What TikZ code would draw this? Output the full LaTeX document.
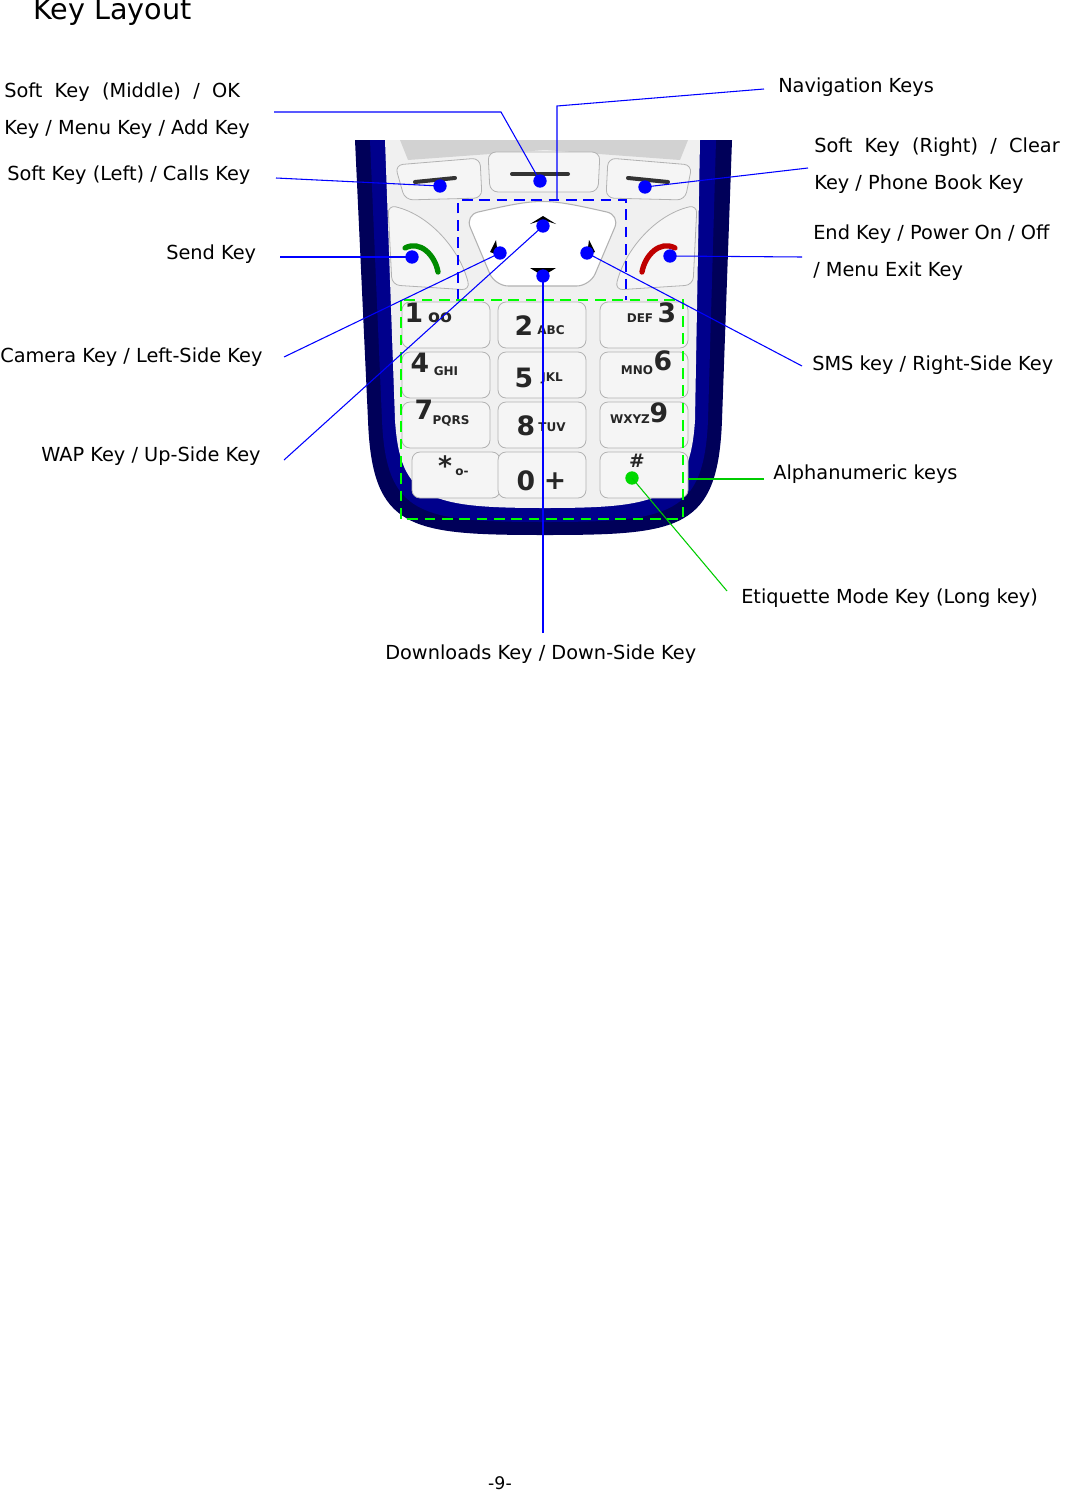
\documentclass[tikz,border=0pt]{standalone}
\usepackage{fontspec}
\setmainfont{DejaVu Sans}
\begin{document}
\begin{tikzpicture}[x=0.75pt,y=-0.75pt,
  lbl/.style={anchor=west,inner sep=0pt,font=\fontsize{14.5}{16}\selectfont},
  bl/.style={draw=blue,line width=0.8pt},
  gl/.style={draw=green!80!black,line width=0.8pt},
  bdot/.style={circle,fill=blue,inner sep=0pt,minimum size=10pt},
  gdot/.style={circle,fill=green!85!black,inner sep=0pt,minimum size=10pt},
  keyb/.style={draw=gray!60,fill=gray!8,rounded corners=6pt,line width=0.6pt},
  kt/.style={font=\bfseries\fontsize{20}{20}\selectfont,text=black!85},
  ks/.style={font=\bfseries\fontsize{9}{9}\selectfont,text=black!85}]
\useasboundingbox (0,0) rectangle (1065,1492);
% phone body
\fill[blue!35!black] (355,140) -- (732,140) -- (722,420) .. controls (718,530) and (680,535) .. (545,535) .. controls (410,535) and (372,530) .. (368,420) -- cycle;
\fill[blue!55!black] (370,140) -- (716,140) -- (708,420) .. controls (704,515) and (670,522) .. (545,522) .. controls (420,522) and (386,515) .. (382,420) -- cycle;
\fill[gray!12] (385,140) -- (700,140) -- (695,420) .. controls (690,500) and (660,508) .. (545,508) .. controls (430,508) and (400,500) .. (395,420) -- cycle;
% screen edge
\fill[gray!35] (400,140) -- (688,140) -- (680,160) -- (545,150) -- (408,160) -- cycle;
% soft keys
\draw[keyb] (395,165) -- (480,158) -- (482,198) -- (405,200) -- cycle;
\draw[keyb] (488,152) -- (600,152) -- (598,192) -- (490,192) -- cycle;
\draw[keyb] (608,158) -- (692,165) -- (685,200) -- (606,198) -- cycle;
\draw[line width=3pt,line cap=round,black!80] (415,182) -- (455,178);
\draw[line width=3pt,line cap=round,black!80] (512,174) -- (568,174);
\draw[line width=3pt,line cap=round,black!80] (628,178) -- (668,182);
% send / end keys
\draw[keyb] (388,205) .. controls (430,215) and (460,250) .. (470,290) -- (392,285) -- cycle;
\draw[keyb] (697,205) .. controls (655,215) and (625,250) .. (615,290) -- (693,285) -- cycle;
\draw[green!55!black,line width=4pt,line cap=round] (405,248) .. controls (420,240) and (435,255) .. (438,272);
\draw[red!75!black,line width=4pt,line cap=round] (642,272) .. controls (645,255) and (660,240) .. (675,248);
% nav key
\draw[draw=gray!60,fill=white,line width=0.8pt,rounded corners=10pt] (465,215) .. controls (540,198) and (545,198) .. (620,215) -- (590,286) -- (495,286) -- cycle;
\fill[black] (530,224) -- (543,216) -- (556,224) -- (543,220) -- cycle;
\fill[black] (530,268) -- (556,268) -- (543,276) -- cycle;
\fill[black] (496,240) -- (498,255) -- (490,252) -- cycle;
\fill[black] (589,240) -- (587,255) -- (595,252) -- cycle;
% keypad keys
\foreach \x/\y in {402/302,402/352,402/402,412/452, 498/302,498/352,498/402,498/452, 600/302,600/352,600/402,600/452}{
  \draw[keyb] (\x,\y) rectangle ++(88,46);}
\node[kt] (k1) at (414,313) {1};\node[ks,font=\bfseries\fontsize{13}{13}\selectfont] at (440,318) {oo};
\node[kt] (k2) at (524,326) {2};\node[ks] at (551,330) {ABC};
\node[kt] (k3) at (667,313) {3};\node[ks] at (640,318) {DEF};
\node[kt] (k4) at (420,363) {4};\node[ks] at (446,371) {GHI};
\node[kt] (k5) at (524,378) {5};\node[ks] at (552,378) {JKL};
\node[kt] (k6) at (663,361) {6};\node[ks] at (637,370) {MNO};
\node[kt] (k7) at (424,410) {7};\node[ks] at (451,421) {PQRS};
\node[kt] (k8) at (526,426) {8};\node[ks] at (552,427) {TUV};
\node[kt] (k9) at (659,413) {9};\node[ks] at (630,419) {WXYZ};
\node[kt] (k10) at (445,466) {*};\node[ks] at (462,472) {o-};
\node[kt] (k0) at (526,481) {0};\node[kt] at (555,481) {+};
\node[kt,font=\bfseries\fontsize{14}{14}\selectfont] (kh) at (637,461) {\#};
% dashed boxes
\draw[blue,line width=2pt,dash pattern=on 8pt off 5pt] (458,300) -- (458,200) -- (626,200) -- (626,300);
\draw[green,line width=2pt,dash pattern=on 8pt off 5pt] (401,300) rectangle (683,519);
% title and labels
\node[anchor=west,inner sep=0pt,font=\fontsize{21.5}{24}\selectfont] (title) at (33,12) {Key Layout};
\node[lbl] (l1) at (4,92) {Soft\ \ Key\ \ (Middle)\ \ /\ \ OK};
\node[lbl] (l1b) at (4,129) {Key / Menu Key / Add Key};
\node[lbl] (l2) at (7,175) {Soft Key (Left) / Calls Key};
\node[lbl] (l3) at (166,254) {Send Key};
\node[lbl] (l4) at (0,357) {Camera Key / Left-Side Key};
\node[lbl] (l5) at (41,456) {WAP Key / Up-Side Key};
\node[lbl] (r1) at (778,87) {Navigation Keys};
\node[lbl] (r2) at (814,147) {Soft\ \ Key\ \ (Right)\ \ /\ \ Clear};
\node[lbl] (r2b) at (814,184) {Key / Phone Book Key};
\node[lbl] (r3) at (813,234) {End Key /\ Power On /\ Off};
\node[lbl] (r3b) at (813,271) {/ Menu Exit Key};
\node[lbl] (r4) at (812,365) {SMS key / Right-Side Key};
\node[lbl] (r5) at (773,474) {Alphanumeric keys};
\node[lbl] (r6) at (741,598) {Etiquette Mode Key (Long key)};
\node[lbl] (b1) at (385,654) {Downloads Key / Down-Side Key};
\node[font=\fontsize{13}{13}\selectfont] (pg) at (500,1483) {-9-};
% dots
\node[bdot] (dsm) at (540,181) {};
\node[bdot] (dsl) at (440,186) {};
\node[bdot] (dsr) at (645,187) {};
\node[bdot] (dsend) at (412,257) {};
\node[bdot] (dend) at (670,256) {};
\node[bdot] (dl) at (500,253) {};
\node[bdot] (du) at (543,226) {};
\node[bdot] (dr) at (587,253) {};
\node[bdot] (dd) at (543,276) {};
\node[gdot] (det) at (632,478) {};
% connector ends
\coordinate (c1) at (274,112); \coordinate (c1m) at (501,112);
\coordinate (cn) at (764,89); \coordinate (cnm) at (557,106); \coordinate (cnb) at (557,200);
\coordinate (c2) at (276,178); \coordinate (c3) at (280,257);
\coordinate (c4) at (284,357); \coordinate (c5) at (284,460);
\coordinate (cr2) at (808,168); \coordinate (cr3) at (802,257);
\coordinate (cr4) at (802,366); \coordinate (cb) at (543,633);
\coordinate (ca1) at (764,479); \coordinate (ca2) at (688,479);
\coordinate (ce) at (727,591);
\draw[bl] (c1) -- (c1m) -- (dsm.center);
\draw[bl] (cn) -- (cnm) -- (cnb);
\draw[bl] (c2) -- (dsl.center);
\draw[bl] (c3) -- (dsend.center);
\draw[bl] (c4) -- (dl.center);
\draw[bl] (c5) -- (du.center);
\draw[bl] (cr2) -- (dsr.center);
\draw[bl] (cr3) -- (dend.center);
\draw[bl] (cr4) -- (dr.center);
\draw[bl] (cb) -- (dd.center);
\draw[gl] (ca1) -- (ca2);
\draw[gl] (ce) -- (det.center);
\end{tikzpicture}
\end{document}
